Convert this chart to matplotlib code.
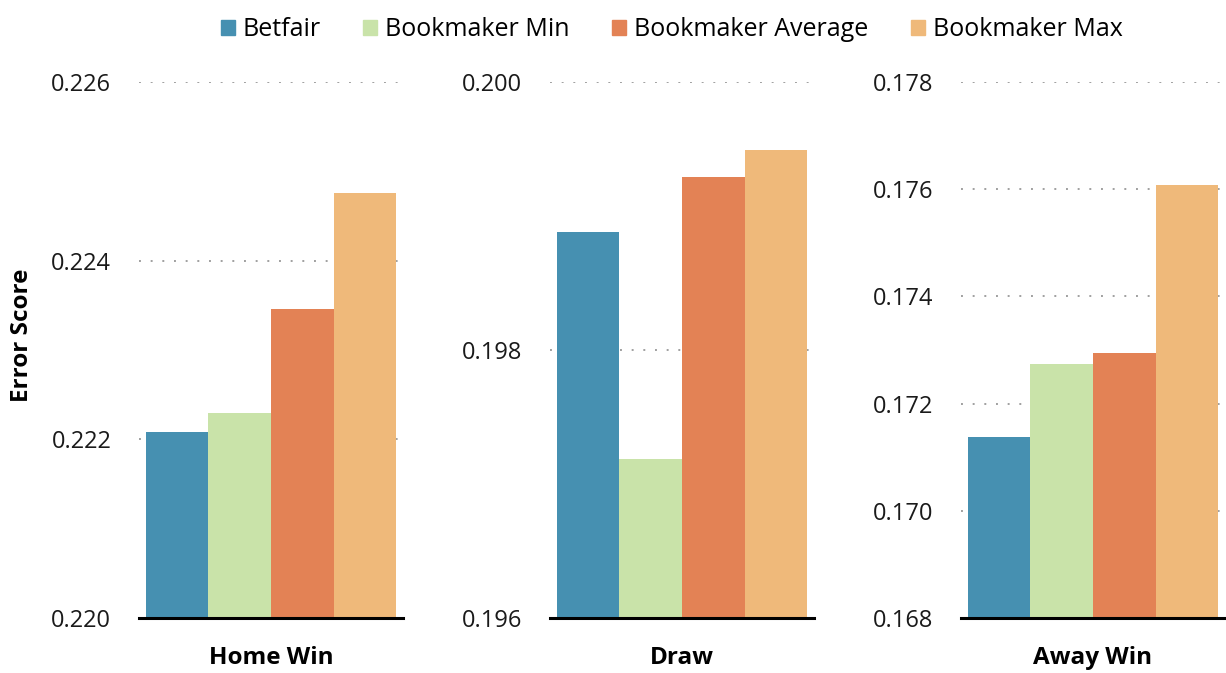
import matplotlib
matplotlib.use("Agg")
import matplotlib.pyplot as plt
import numpy as np

plt.rcParams['font.family'] = ['Open Sans', 'DejaVu Sans']

# data
series = ["Betfair", "Bookmaker Min", "Bookmaker Average", "Bookmaker Max"]
colors = ["#4690b1", "#c9e3a9", "#e38255", "#efb97a"]

outcomes = ["Home Win", "Draw", "Away Win"]
home_win = [0.22208, 0.22229, 0.22346, 0.22476]
draw = [0.19888, 0.19719, 0.19929, 0.19949]
away_win = [0.17138, 0.17274, 0.17294, 0.17608]

ylims = [(0.220, 0.226), (0.196, 0.200), (0.168, 0.178)]
yticks = [[0.220, 0.222, 0.224, 0.226],
          [0.196, 0.198, 0.200],
          [0.168, 0.170, 0.172, 0.174, 0.176, 0.178]]

fig = plt.figure(figsize=(12.26, 6.73), dpi=100)
lefts = [0.1134, 0.4486, 0.7839]
w, b, h = 0.2153, 0.0817, 0.7964

x = np.arange(len(series))
for i, vals in enumerate([home_win, draw, away_win]):
    ax = fig.add_axes([lefts[i], b, w, h])
    lo, hi = ylims[i]
    ax.bar(x, np.array(vals) - lo, bottom=lo, width=1.0, color=colors, zorder=3)
    ax.set_ylim(lo, hi)
    ax.set_xlim(-0.61, 3.61)
    ax.set_yticks(yticks[i])
    ax.set_yticklabels(["%.3f" % v for v in yticks[i]])
    ax.set_xticks([])
    ax.set_xlabel(outcomes[i], fontsize=17.5, fontweight='bold', labelpad=20)
    for s in ["top", "right", "left"]:
        ax.spines[s].set_visible(False)
    ax.spines["bottom"].set_linewidth(2.2)
    ax.spines["bottom"].set_color("black")
    ax.spines["bottom"].set_zorder(4)
    ax.tick_params(axis='y', length=0, pad=20, labelsize=17, colors='#1a1a1a')
    for t in yticks[i][1:]:
        ax.axhline(t, color='#a0a0a0', lw=1.4, ls=(0, (1, 5)), zorder=1)

fig.text(22 / 1226, 0.502, "Error Score", rotation=90, ha='center', va='center',
         fontsize=17.5, fontweight='bold')

handles = [plt.Rectangle((0, 0), 1, 1, color=c) for c in colors]
fig.legend(handles, series, loc='upper center', bbox_to_anchor=(0.548, 1.008),
           ncol=4, frameon=False, fontsize=18, handlelength=0.56, handleheight=0.56,
           handletextpad=0.32, columnspacing=1.7)

fig.savefig("out.png", dpi=100)
